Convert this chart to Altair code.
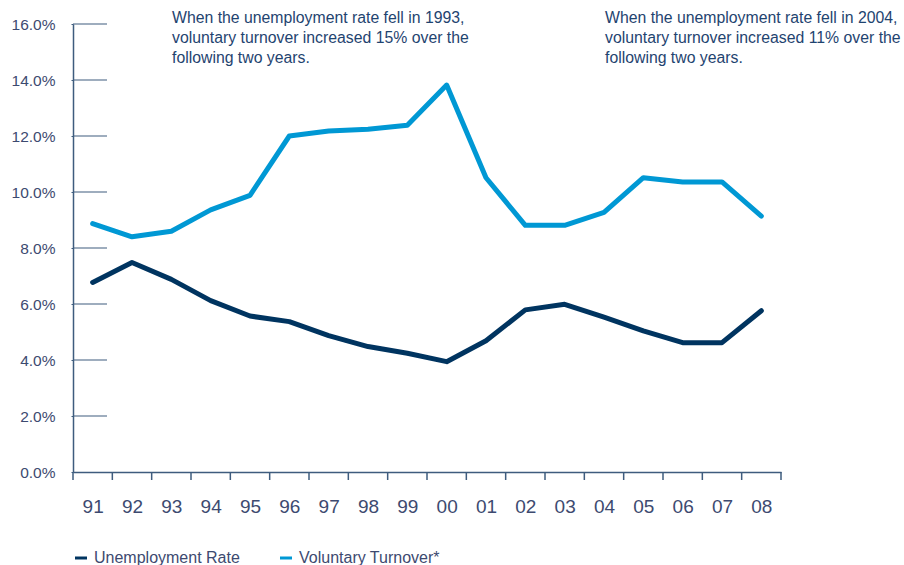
import altair as alt
import pandas as pd

# ---- data ----
years = ["91", "92", "93", "94", "95", "96", "97", "98", "99",
         "00", "01", "02", "03", "04", "05", "06", "07", "08"]
unemployment = [6.77, 7.48, 6.88, 6.12, 5.57, 5.37, 4.87, 4.48, 4.24,
                3.94, 4.69, 5.79, 5.99, 5.53, 5.04, 4.62, 4.62, 5.76]
turnover = [8.87, 8.40, 8.60, 9.36, 9.88, 12.00, 12.18, 12.24, 12.38,
            13.82, 10.51, 8.81, 8.81, 9.27, 10.51, 10.36, 10.36, 9.14]
series_names = ["Unemployment Rate", "Voluntary Turnover*"]
y_ticks = [0, 2, 4, 6, 8, 10, 12, 14, 16]
note_1993 = ["When the unemployment  rate fell in  1993,",
             "voluntary turnover increased 15% over the",
             "following two years."]
note_2004 = ["When the unemployment  rate fell in 2004,",
             "voluntary turnover increased 11% over the",
             "following two years."]

# ---- styles ----
FONT = "Liberation Sans"
DARK = "#003460"
LIGHT = "#0098D4"
AXIS = "#3E5C7E"
LABEL = "#3D4A70"
NOTE = "#1F4470"
W, H = 708, 448

rows = []
for i, yr in enumerate(years):
    rows.append({"year": yr, "pos": i + 0.5, "value": unemployment[i], "series": series_names[0]})
    rows.append({"year": yr, "pos": i + 0.5, "value": turnover[i], "series": series_names[1]})
df = pd.DataFrame(rows)

n = len(years)
x_scale = alt.Scale(domain=[0, n], nice=False, zero=False)
y_scale = alt.Scale(domain=[0, 16], nice=False)

label_array = "[" + ",".join("'%s'" % y for y in years) + "]"

lines = alt.Chart(df).mark_line(strokeWidth=5, strokeCap="round", strokeJoin="round").encode(
    x=alt.X("pos:Q", scale=x_scale,
            axis=alt.Axis(values=[i + 0.5 for i in range(n)],
                          labelExpr=label_array + "[floor(datum.value)]",
                          ticks=False, grid=False, title=None,
                          domainColor=AXIS, domainWidth=1.5,
                          labelFont=FONT, labelFontSize=19, labelColor=LABEL,
                          labelPadding=25)),
    y=alt.Y("value:Q", scale=y_scale,
            axis=alt.Axis(values=y_ticks,
                          labelExpr="format(datum.value, '.1f') + '%'",
                          tickSize=2, tickColor=AXIS, grid=False, title=None,
                          domainColor=AXIS, domainWidth=1.5,
                          labelFont=FONT, labelFontSize=15.5, labelColor=LABEL,
                          labelPadding=16)),
    color=alt.Color("series:N",
                    scale=alt.Scale(domain=series_names, range=[DARK, LIGHT]),
                    legend=alt.Legend(orient="none", legendX=0, legendY=526,
                                      direction="horizontal", title=None,
                                      symbolType="stroke", symbolStrokeWidth=3,
                                      symbolSize=144, labelFont=FONT,
                                      labelFontSize=16, labelColor=LABEL,
                                      columnPadding=34, labelOffset=5)),
)

ytick_rules = alt.Chart(pd.DataFrame({"v": y_ticks[1:]})).mark_rule(
    color=AXIS, strokeWidth=1.2).encode(
    y=alt.Y("v:Q", scale=y_scale),
    x=alt.value(0), x2=alt.value(34))

xtick_rules = alt.Chart(pd.DataFrame({"p": list(range(n + 1))})).mark_rule(
    color=AXIS, strokeWidth=1.5).encode(
    x=alt.X("p:Q", scale=x_scale),
    y=alt.value(H), y2=alt.value(H + 8))

note1 = alt.Chart(alt.Data(values=[{"t": note_1993}])).mark_text(
    align="left", baseline="middle", font=FONT, fontSize=15.8,
    lineHeight=20, color=NOTE).encode(
    text="t:N", x=alt.value(99), y=alt.value(-6))

note2 = alt.Chart(alt.Data(values=[{"t": note_2004}])).mark_text(
    align="left", baseline="middle", font=FONT, fontSize=15.8,
    lineHeight=20, color=NOTE).encode(
    text="t:N", x=alt.value(532), y=alt.value(-6))

chart = alt.layer(lines, ytick_rules, xtick_rules, note1, note2).properties(
    width=W, height=H,
    background="white",
    autosize=alt.AutoSizeParams(type="none"),
    padding={"left": 73, "top": 24, "right": 123, "bottom": 93},
).configure_view(stroke=None)

chart.save("out.html", embed_options={"renderer": "svg", "actions": False})
